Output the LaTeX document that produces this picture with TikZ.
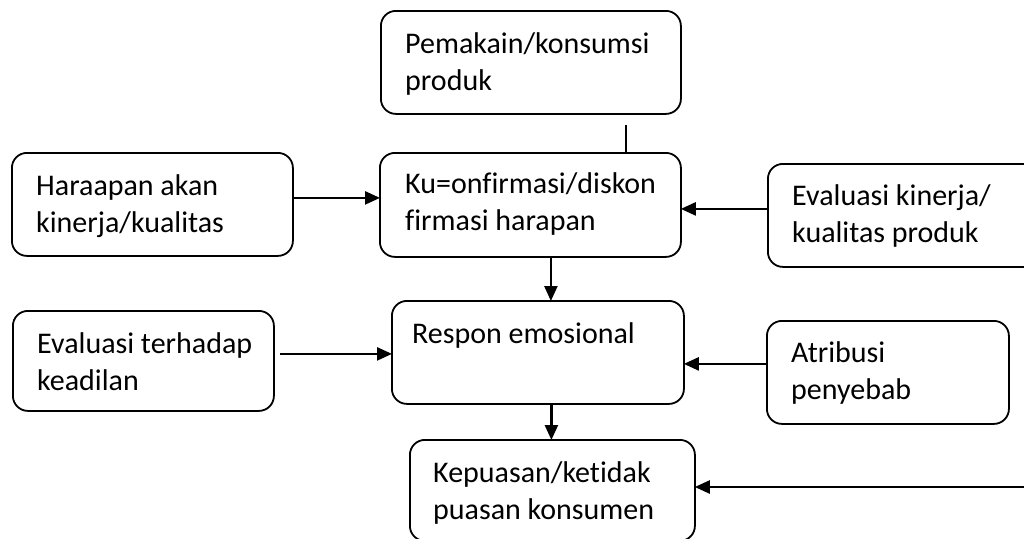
\documentclass[tikz,border=0pt]{standalone}
\usepackage{fontspec}
\setmainfont{Carlito}[Ligatures=NoCommon]
\usetikzlibrary{arrows.meta}

% box: rounded frame of a given size, its top-left corner placed with "at"
\tikzset{
  box/.style={draw, line width=1.8pt, rounded corners=15pt, inner sep=0pt,
              anchor=north west},
  boxtext/.style={anchor=base west, inner sep=0pt,
                  font=\fontsize{30}{37}\selectfont},
  link/.style={line width=2.4pt},
  arr/.style={link, -{Triangle[length=15pt,width=13pt]}, shorten >=-1pt}
}
% two-line text with the first line's baseline as the node's baseline
\newcommand{\twolines}[2]{\begin{tabular}[t]{@{}l@{}}#1\\#2\end{tabular}}

\begin{document}
\begin{tikzpicture}[x=1pt, y=-1pt]
\useasboundingbox (0,0) rectangle (1024,538);
\clip (0,0) rectangle (1024,538);

% frames
\node[box, minimum width=300pt, minimum height=103pt] (pem) at (380,10)  {};
\node[box, minimum width=301pt, minimum height=104pt] (ku)  at (379,152) {};
\node[box, minimum width=281pt, minimum height=103pt] (har) at (11,152)  {};
\node[box, minimum width=280pt, minimum height=103pt] (evk) at (767,163) {};
\node[box, minimum width=261pt, minimum height=100pt] (evt) at (12,310)  {};
\node[box, minimum width=292pt, minimum height=103pt] (resp) at (391,300) {};
\node[box, minimum width=242pt, minimum height=103pt] (atr) at (766,320) {};
\node[box, minimum width=285pt, minimum height=101pt] (kep) at (409,439) {};

% texts
\node[boxtext] (pemt) at (405,53)  {\twolines{Pemakain/konsumsi}{produk}};
\node[boxtext] (kut)  at (405,193) {\twolines{Ku=onfirmasi/diskon}{firmasi harapan}};
\node[boxtext] (hart) at (36,195)  {\twolines{Haraapan akan}{kinerja/kualitas}};
\node[boxtext] (evkt) at (792,205) {\twolines{Evaluasi kinerja/}{kualitas produk}};
\node[boxtext] (evtt) at (37,353)  {\twolines{Evaluasi terhadap}{keadilan}};
\node[boxtext] (respt) at (412,343) {Respon emosional};
\node[boxtext] (atrt) at (791,362) {\twolines{Atribusi}{penyebab}};
\node[boxtext] (kept) at (433,482) {\twolines{Kepuasan/ketidak}{puasan konsumen}};

% connectors
\coordinate (pemend) at (626,125);
\draw[link] (pemend) -- (pemend |- ku.north);

\draw[arr] ([yshift=6.5pt]har.east) coordinate (h1) -- (h1 -| ku.west);
\draw[arr] ([yshift=6.5pt]evk.west) coordinate (e1) -- (e1 -| ku.east);
\draw[arr] ([xshift=20.5pt]ku.south) coordinate (k1) -- (k1 |- resp.north);
\draw[arr] ([xshift=5pt,yshift=7pt]evt.east) coordinate (t1) -- (t1 -| resp.west);
\draw[arr] ([yshift=8.5pt]atr.west) coordinate (a1) -- (a1 -| resp.east);
\draw[arr] ([xshift=13.5pt]resp.south) coordinate (r1) -- (r1 |- kep.north);

\coordinate (rightend) at (1030,487);
\draw[arr] (rightend) -- (rightend -| kep.east);
\end{tikzpicture}
\end{document}
